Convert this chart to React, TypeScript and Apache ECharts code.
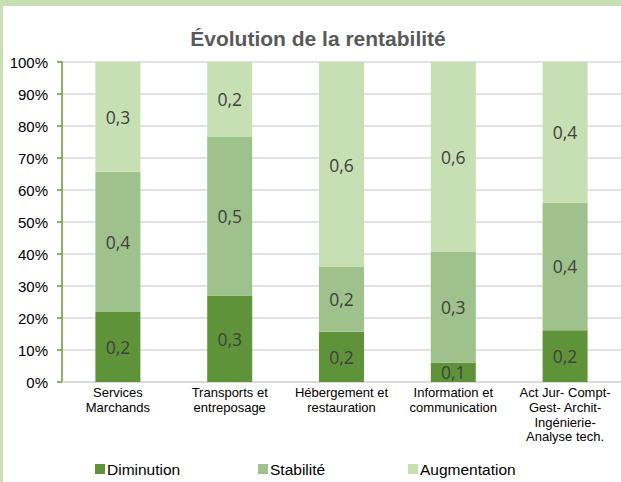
import React, { useEffect, useRef } from "react";
import * as echarts from "echarts";

const categories = [
  "Services\nMarchands",
  "Transports et\nentreposage",
  "Hébergement et\nrestauration",
  "Information et\ncommunication",
  "Act Jur- Compt-\nGest- Archit-\nIngénierie-\nAnalyse tech.",
];
const seriesNames = ["Diminution", "Stabilité", "Augmentation"];
const diminution = [0.219, 0.27, 0.157, 0.06, 0.162];
const stabilite = [0.438, 0.497, 0.202, 0.348, 0.398];
const augmentation = [0.343, 0.233, 0.641, 0.592, 0.44];
const yTicks = [0, 0.1, 0.2, 0.3, 0.4, 0.5, 0.6, 0.7, 0.8, 0.9, 1];
const colors = ["#5f9339", "#9fc18b", "#c6e0b4"];

export default function App() {
  const ref = useRef<HTMLDivElement>(null);
  useEffect(() => {
    document.body.style.margin = "0";
    if (!ref.current) return;
    const chart = echarts.init(ref.current, null, { renderer: "svg" });
    const values = [diminution, stabilite, augmentation];
    const legendLefts = [95, 258, 408];
    chart.setOption({
      animation: false,
      backgroundColor: "#ffffff",
      title: {
        text: "Évolution de la rentabilité",
        left: 313,
        textAlign: "center",
        top: 23,
        textStyle: {
          fontFamily: "Liberation Sans, Arial, sans-serif",
          fontSize: 21,
          fontWeight: "bold",
          color: "#595959",
        },
      },
      legend: seriesNames.map((n, i) => ({
        data: [n],
        left: legendLefts[i],
        top: 461,
        itemWidth: 10,
        itemHeight: 10,
        itemGap: 5,
        icon: "rect",
        padding: 0,
        textStyle: {
          fontFamily: "Liberation Sans, Arial, sans-serif",
          fontSize: 15.5,
          color: "#000",
          padding: [0, 0, 0, -3],
        },
      })),
      grid: { left: 62, top: 62, bottom: 100, right: -6, containLabel: false },
      xAxis: {
        type: "category",
        data: categories,
        axisLine: { lineStyle: { color: "#d9d9d9", width: 1.5 } },
        axisTick: { show: false },
        axisLabel: {
          interval: 0,
          margin: 3,
          fontFamily: "Liberation Sans, Arial, sans-serif",
          fontSize: 13,
          lineHeight: 14.8,
          color: "#000",
        },
      },
      yAxis: {
        type: "value",
        min: 0,
        max: 1,
        interval: 0.1,
        axisLine: { show: true, lineStyle: { color: "#5f9a3a", width: 1.5 } },
        axisTick: { show: true, length: 5, lineStyle: { color: "#5f9a3a", width: 1.5 } },
        splitLine: { lineStyle: { color: "#d9d9d9", width: 1.5 } },
        axisLabel: {
          margin: 14,
          fontFamily: "Liberation Sans, Arial, sans-serif",
          fontSize: 15,
          color: "#000",
          formatter: (v: number) => {
            const t = yTicks.find((x) => Math.abs(x - v) < 1e-6);
            return Math.round((t ?? v) * 100) + "%";
          },
        },
      },
      graphic: [
        { type: "rect", shape: { x: 0, y: 0, width: 621, height: 6 }, style: { fill: "#c6e0b4" }, z: 100 },
        { type: "rect", shape: { x: 0, y: 0, width: 3, height: 482 }, style: { fill: "#c6e0b4" }, z: 100 },
      ],
      series: seriesNames.map((n, i) => ({
        name: n,
        type: "bar",
        stack: "total",
        barWidth: 45,
        data: values[i],
        itemStyle: { color: colors[i] },
        label: {
          show: true,
          position: "inside",
          fontFamily: "Open Sans, sans-serif",
          fontSize: 17.5,
          color: "#404040",
          formatter: (p: any) => Number(p.value).toFixed(1).replace(".", ","),
        },
      })),
    });
    return () => chart.dispose();
  }, []);
  return <div ref={ref} style={{ width: 621, height: 482 }} />;
}
